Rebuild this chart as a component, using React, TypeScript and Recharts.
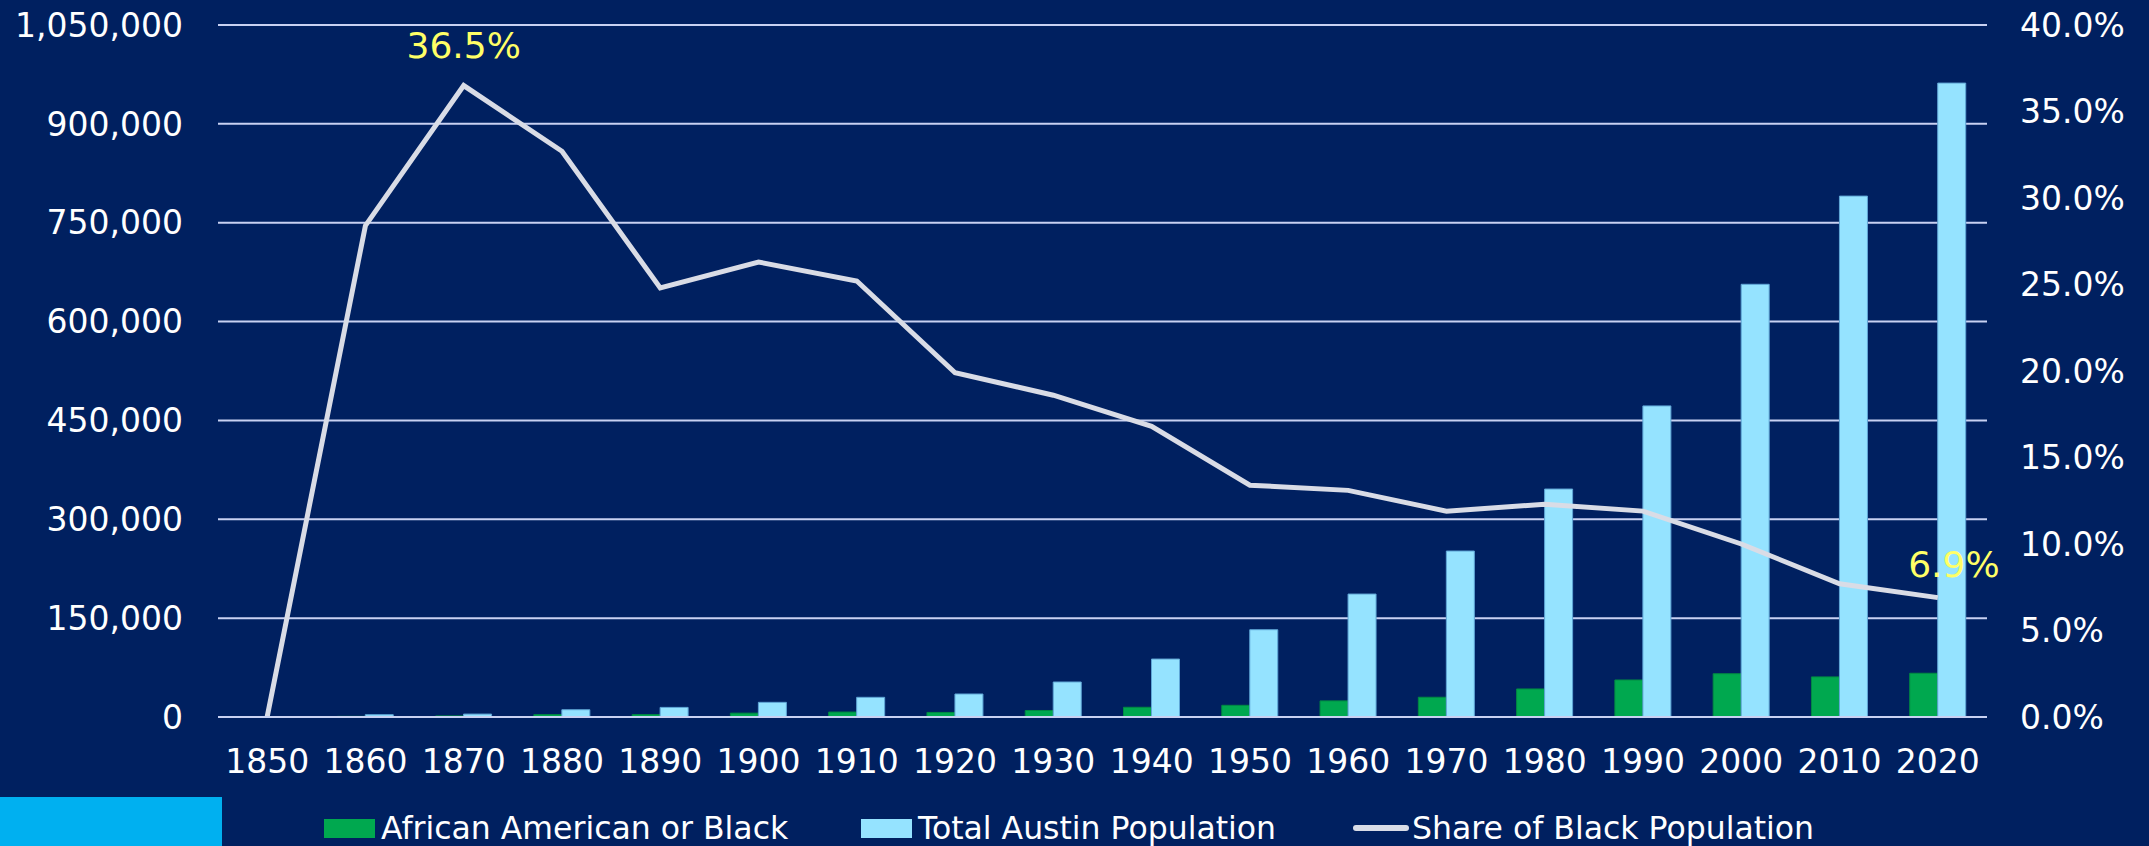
import React from "react";
import { ComposedChart, Bar, Line, XAxis, YAxis, CartesianGrid, LabelList } from "recharts";

// census decades
const years = ["1850", "1860", "1870", "1880", "1890", "1900", "1910", "1920", "1930",
  "1940", "1950", "1960", "1970", "1980", "1990", "2000", "2010", "2020"];

const blackPop = [0, 990, 1615, 3600, 3615, 5850, 7525, 6940, 9880,
  14770, 17750, 24440, 29970, 42550, 56170, 65650, 60860, 66370];

const totalPop = [629, 3494, 4428, 11013, 14575, 22258, 29860, 34876, 53120,
  87930, 132459, 186545, 251808, 345890, 472020, 656562, 790390, 961855];

const blackShare = [0, 0.284, 0.365, 0.327, 0.248, 0.263, 0.252, 0.199, 0.186,
  0.168, 0.134, 0.131, 0.119, 0.123, 0.119, 0.1, 0.077, 0.069];

// only two points carry a data label
const shareLabels = ["", "", "36.5%", "", "", "", "", "", "",
  "", "", "", "", "", "", "", "", "6.9%"];

const leftTicks = [0, 150000, 300000, 450000, 600000, 750000, 900000, 1050000];
const rightTicks = [0, 0.05, 0.1, 0.15, 0.2, 0.25, 0.3, 0.35, 0.4];

const data = years.map((year, i) => ({
  year,
  black: blackPop[i],
  total: totalPop[i],
  share: blackShare[i],
  label: shareLabels[i],
}));

const FONT = "'DejaVu Sans', sans-serif";
const BG = "#002060";
const GRID = "#C8D1F2";
const GREEN = "#00A84F";
const LIGHT = "#95E3FF";
const LINE = "#D9DCE6";

const ShareLabel = (props: any) => {
  const { x, y, value, index } = props;
  if (!value) return null;
  const last = index === years.length - 1;
  return (
    <text
      x={x + (last ? 16 : 0)}
      y={y - (last ? 21 : 28)}
      textAnchor="middle"
      fill="#FFFF66"
      fontSize={36}
      fontFamily={FONT}
    >
      {value}
    </text>
  );
};

export default function App() {
  const tickStyle = { fill: "#FFFFFF", fontSize: 33, fontFamily: FONT };

  return (
    <div style={{ position: "absolute", left: 0, top: 0, width: 2149, height: 846, background: BG, overflow: "hidden" }}>
      <ComposedChart
        width={2149}
        height={846}
        data={data}
        margin={{ top: 25, right: 0, bottom: 69, left: 0 }}
        barGap={0}
      >
        <CartesianGrid yAxisId="left" vertical={false} stroke={GRID} strokeWidth={2} />
        <XAxis
          dataKey="year"
          interval={0}
          tickLine={false}
          axisLine={{ stroke: GRID, strokeWidth: 2 }}
          tickSize={0}
          tickMargin={33}
          height={60}
          tick={tickStyle}
        />
        <YAxis
          yAxisId="left"
          width={218}
          domain={[0, 1050000]}
          ticks={leftTicks}
          axisLine={false}
          tickLine={false}
          tickSize={0}
          tickMargin={35}
          tick={tickStyle}
          tickFormatter={(v: number) => v.toLocaleString("en-US")}
        />
        <YAxis
          yAxisId="right"
          orientation="right"
          width={162}
          domain={[0, 0.4]}
          ticks={rightTicks}
          axisLine={false}
          tickLine={false}
          tickSize={0}
          tickMargin={33}
          tick={tickStyle}
          tickFormatter={(v: number) => (v * 100).toFixed(1) + "%"}
        />
        <Bar yAxisId="left" dataKey="black" fill={GREEN} stroke="#008a42" strokeWidth={1} barSize={28} isAnimationActive={false} />
        <Bar yAxisId="left" dataKey="total" fill={LIGHT} stroke="#5fa6d6" strokeWidth={1} barSize={28} isAnimationActive={false} />
        <Line
          yAxisId="right"
          dataKey="share"
          stroke={LINE}
          strokeWidth={5}
          dot={false}
          isAnimationActive={false}
        >
          <LabelList dataKey="label" content={<ShareLabel />} />
        </Line>
      </ComposedChart>

      <div style={{ position: "absolute", left: 0, top: 797, width: 222, height: 49, background: "#00B0F0" }} />

      <svg width={2149} height={846} style={{ position: "absolute", left: 0, top: 0, pointerEvents: "none" }}>
        <rect x={324} y={819} width={51} height={19} fill={GREEN} />
        <text x={381} y={839} fill="#FFFFFF" fontSize={31.5} fontFamily={FONT}>African American or Black</text>
        <rect x={861} y={819} width={51} height={19} fill={LIGHT} />
        <text x={918} y={839} fill="#FFFFFF" fontSize={31.5} fontFamily={FONT}>Total Austin Population</text>
        <line x1={1356} y1={828} x2={1406} y2={828} stroke={LINE} strokeWidth={6} strokeLinecap="round" />
        <text x={1412} y={839} fill="#FFFFFF" fontSize={31.5} fontFamily={FONT}>Share of Black Population</text>
      </svg>
    </div>
  );
}
